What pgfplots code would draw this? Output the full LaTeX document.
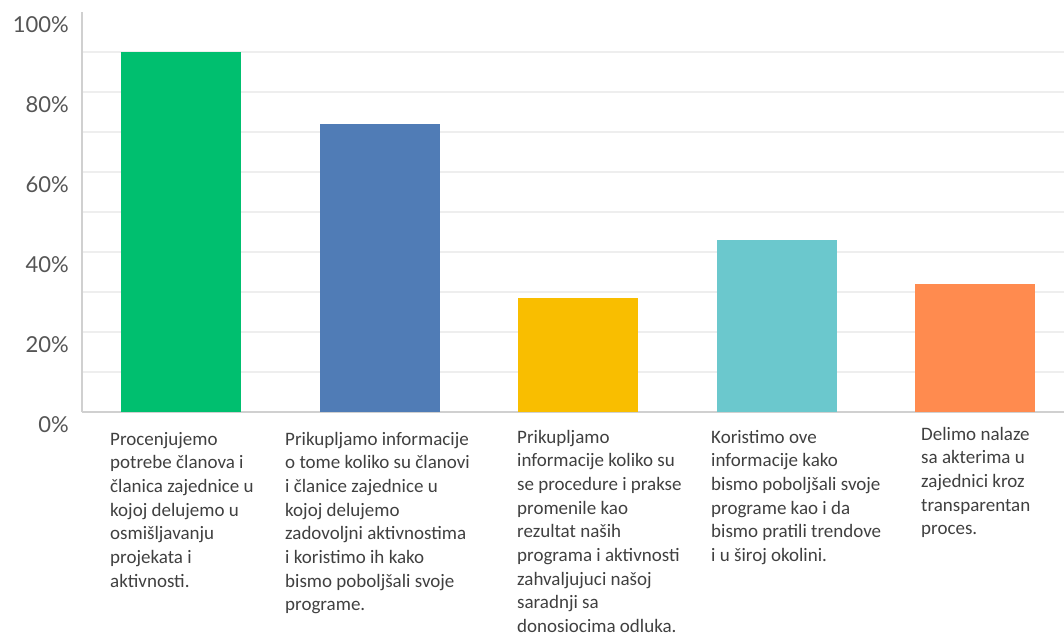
\documentclass[border=0pt]{standalone}
\usepackage{pgfplots}
\pgfplotsset{compat=1.18}
\usepackage{fontspec}
\setmainfont{Carlito}
\newfontfamily\tickfont{Lato}

\definecolor{cgreen}{HTML}{00BF6F}
\definecolor{cblue}{HTML}{507CB6}
\definecolor{cyellow}{HTML}{F9BE00}
\definecolor{cteal}{HTML}{6BC8CD}
\definecolor{corange}{HTML}{FF8B4F}
\definecolor{gridgray}{HTML}{EEEEEE}
\definecolor{axgray}{HTML}{D0D0D0}
\definecolor{tickgray}{HTML}{555555}
\definecolor{txtgray}{HTML}{404040}

\newcommand{\lbl}[1]{\begin{tabular}[t]{@{}l@{}}#1\end{tabular}}

\begin{document}
\begin{tikzpicture}
\path[use as bounding box] (0,0) rectangle (1064pt,-636pt);
\begin{axis}[
    at={(82pt,-412pt)}, anchor=south west,
    scale only axis,
    width=982pt, height=400pt,
    xmin=-0.5, xmax=4.447,
    ymin=0, ymax=100,
    axis x line*=bottom, axis y line*=left,
    axis line style={axgray, line width=1.5pt},
    xtick=\empty,
    ytick={0,20,...,80},
    minor ytick={10,30,50,70,90},
    extra y ticks={100},
    extra y tick labels={100\%},
    extra y tick style={ymajorgrids=false},
    ymajorgrids, yminorgrids,
    major grid style={gridgray, line width=1.5pt},
    minor grid style={gridgray, line width=1.5pt},
    major tick length=0pt, minor tick length=0pt,
    yticklabel={\pgfmathprintnumber{\tick}\%},
    /pgf/number format/assume math mode=true,
    yticklabel style={font=\tickfont\fontsize{22}{22}\selectfont, color=tickgray,
        anchor=east, inner sep=0pt, xshift=-13pt, yshift=-13pt},
    ybar, bar width=120pt, bar shift=0pt,
]
\addplot[fill=cgreen, draw=none] coordinates {(0,90)};
\addplot[fill=cblue, draw=none] coordinates {(1,72)};
\addplot[fill=cyellow, draw=none] coordinates {(2,28.4)};
\addplot[fill=cteal, draw=none] coordinates {(3,43)};
\addplot[fill=corange, draw=none] coordinates {(4,32)};
\end{axis}
\tikzset{lbl/.style={anchor=base west, inner sep=0pt, color=txtgray,
    font=\fontsize{19}{23.7}\selectfont}}
\node[lbl] at (110pt,-445pt) {\lbl{Procenjujemo\\potrebe članova i\\članica zajednice u\\kojoj delujemo u\\osmišljavanju\\projekata i\\aktivnosti.}};
\node[lbl] at (285pt,-445pt) {\lbl{Prikupljamo informacije\\o tome koliko su članovi\\i članice zajednice u\\kojoj delujemo\\zadovoljni aktivnostima\\i koristimo ih kako\\bismo poboljšali svoje\\programe.}};
\node[lbl] at (517pt,-443pt) {\lbl{Prikupljamo\\informacije koliko su\\se procedure i prakse\\promenile kao\\rezultat naših\\programa i aktivnosti\\zahvaljujuci našoj\\saradnji sa\\donosiocima odluka.}};
\node[lbl] at (711pt,-443pt) {\lbl{Koristimo ove\\informacije kako\\bismo poboljšali svoje\\programe kao i da\\bismo pratili trendove\\i u široj okolini.}};
\node[lbl] at (921pt,-440pt) {\lbl{Delimo nalaze\\sa akterima u\\zajednici kroz\\transparentan\\proces.}};
\end{tikzpicture}
\end{document}
